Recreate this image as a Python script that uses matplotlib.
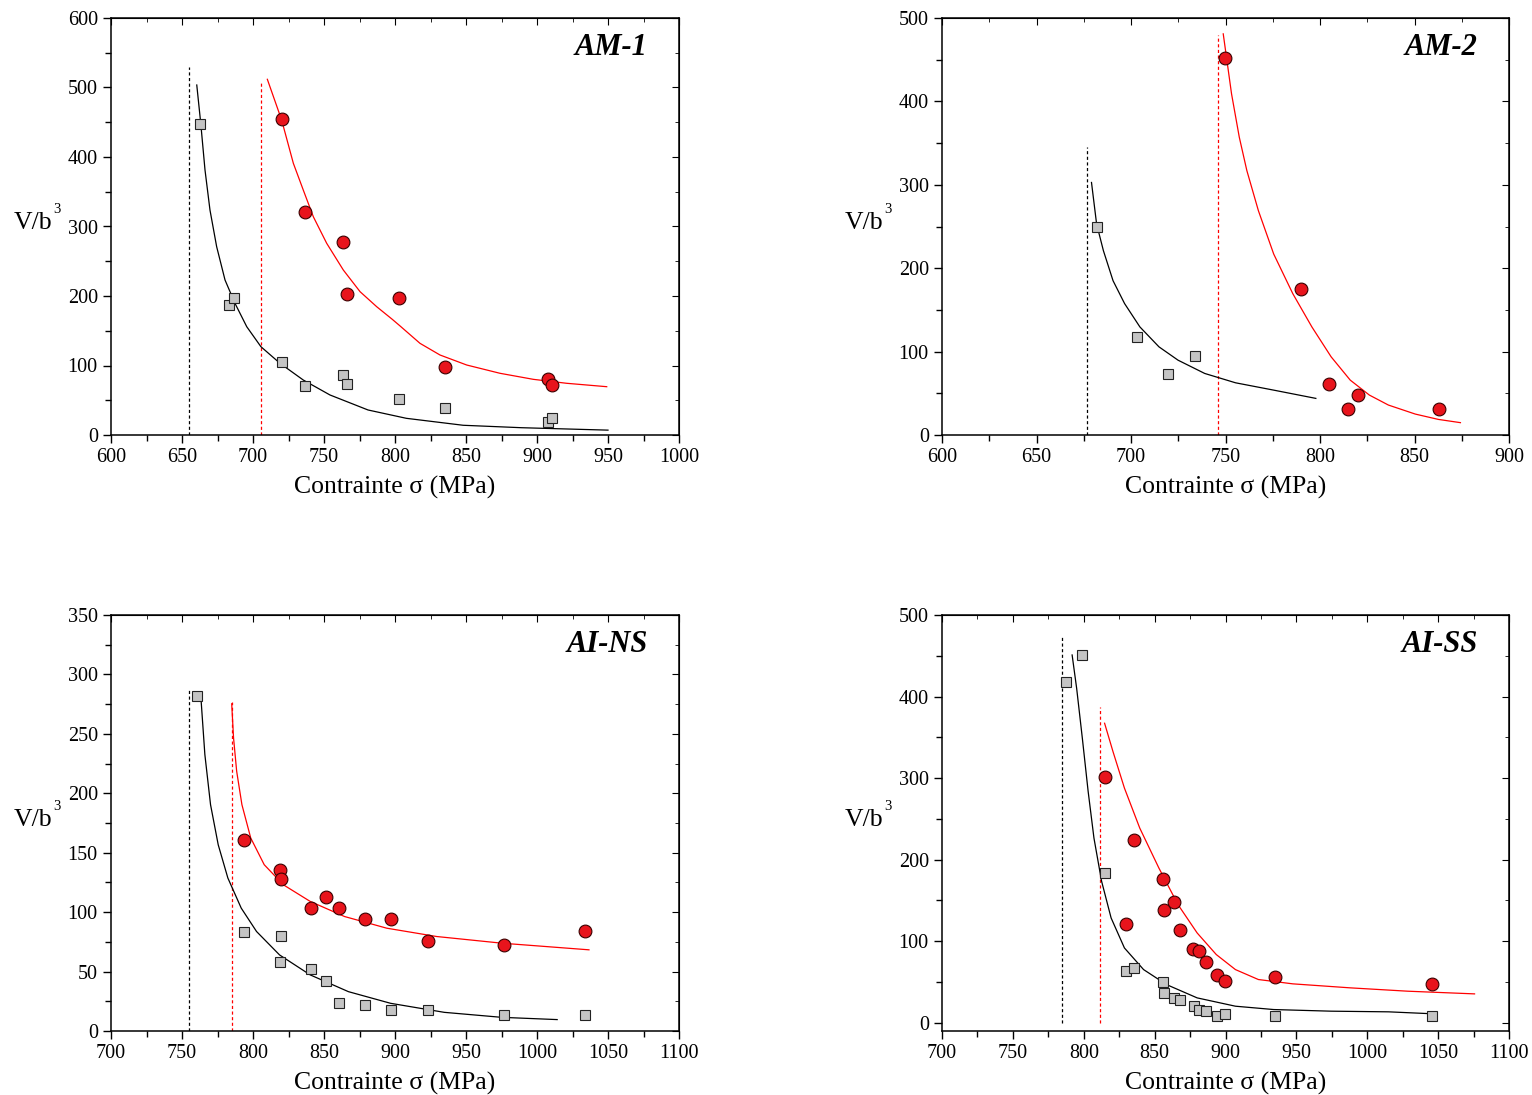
import matplotlib
matplotlib.use("Agg")
import matplotlib.pyplot as plt
from matplotlib.ticker import MultipleLocator, AutoMinorLocator

plt.rcParams['font.family'] = ['Liberation Serif', 'DejaVu Serif']

# ---- AM-1 ----
am1_sq_x = [662.6, 682.8, 686.6, 720.6, 736.5, 763.7, 765.9, 802.6, 835.5, 907.5, 910.5]
am1_sq_y = [447.8, 187, 197.8, 104.6, 71, 86.9, 73.4, 51.8, 38.4, 19.2, 24.5]
am1_ci_x = [720.6, 736.8, 763.7, 765.9, 802.6, 835.5, 907.5, 910.5]
am1_ci_y = [454.6, 321, 277, 202.6, 197.8, 98.4, 80.2, 71.5]
am1_bk_x = [660.4, 663.2, 666.2, 669.7, 674.4, 680.3, 687.3, 695.6, 705.6, 719, 735.4, 754.2, 781, 808, 848, 889, 950]
am1_bk_y = [503.6, 448.5, 381.3, 323.7, 271, 223, 189.5, 155.8, 127, 103.2, 79.1, 57.6, 36, 24, 14, 10.5, 7]
am1_rd_x = [710.1, 720.2, 728.4, 735.4, 742.5, 751.9, 763.6, 775.4, 787.1, 798.1, 803.5, 817.6, 831.7, 850.5, 873.9, 897.4, 920.9, 949.1]
am1_rd_y = [511.8, 453, 391, 352.5, 314, 275.8, 237.4, 206.2, 184.6, 166.4, 157, 131.9, 115.1, 100.7, 88.8, 80.1, 74.4, 69.5]
am1_vl = [(655.1, 529), (705.6, 509)]

# ---- AM-2 ----
am2_sq_x = [681.8, 703.2, 719.8, 733.8]
am2_sq_y = [250, 117.7, 72.6, 95.3]
am2_ci_x = [749.8, 789.7, 804.9, 820, 815, 862.8]
am2_ci_y = [451.5, 175, 60.6, 47.9, 30.7, 30.7]
am2_bk_x = [679.1, 681.8, 685.4, 690.5, 696.6, 704.7, 714.8, 724.9, 739, 755.3, 775.5, 797.8]
am2_bk_y = [302.8, 253, 221, 185, 157.6, 129.6, 105.7, 89.7, 73.8, 62.6, 53.8, 43.9]
am2_rd_x = [748.8, 753.2, 757.3, 761.3, 767.4, 775.5, 785.6, 795.7, 805.9, 816, 826.1, 836.2, 850.4, 862.6, 874.3]
am2_rd_y = [481, 409, 357, 317, 269, 217, 169.5, 129.6, 93.7, 65.8, 47.9, 35.9, 25.1, 18.7, 14.8]
am2_vl = [(676.5, 345), (746, 480)]

# ---- AI-NS ----
ains_sq_x = [760.7, 793.9, 820, 818.7, 840.5, 851.6, 860.8, 878.6, 897.4, 923.3, 976.5, 1033.6]
ains_sq_y = [281.7, 82.9, 80, 57.9, 52.2, 42.1, 23.6, 21.6, 17.7, 17.4, 13.5, 13.5]
ains_ci_x = [793.9, 818.7, 820, 840.5, 851.6, 860.8, 878.6, 897.4, 923.3, 976.5, 1033.6]
ains_ci_y = [160.4, 135.4, 128.1, 103.1, 112.6, 103.1, 94.1, 94.1, 76.1, 72.2, 84.3]
ains_bk_x = [763.4, 766.1, 770.1, 775.5, 782.3, 791.7, 802.5, 818.7, 840.3, 867.2, 896.9, 934.7, 975.1, 1014.2]
ains_bk_y = [279, 232.6, 190.4, 156.7, 128.7, 103.4, 83.7, 64, 47.2, 33.1, 23.3, 15.7, 11.5, 9.6]
ains_rd_x = [785, 786.3, 788.5, 792.2, 798.4, 807.9, 821.4, 840.3, 864.5, 894.2, 929.3, 975.1, 1036.6]
ains_rd_y = [275.3, 246.6, 218.5, 190.4, 162.4, 139.9, 123, 109, 96.3, 86.5, 79.5, 73.9, 68.3]
ains_vl = [(754.8, 286.5), (785, 276.7)]

# ---- AI-SS ----
aiss_sq_x = [787.7, 798.8, 814.7, 829.8, 835.8, 855.7, 856.8, 863.8, 867.9, 877.6, 881.6, 886, 893.8, 899.7, 934.8, 1046]
aiss_sq_y = [417.6, 451.4, 183.3, 63.3, 67.3, 49.8, 36.3, 30.2, 27.8, 21.2, 16.3, 14.3, 8.2, 11, 8.6, 7.8]
aiss_ci_x = [814.7, 835.8, 855.7, 856.8, 863.8, 829.8, 867.9, 877, 881.6, 886, 893.8, 899.7, 934.8, 1046]
aiss_ci_y = [302, 224, 176.3, 138, 148.2, 121.6, 114.3, 90.6, 87.8, 74.3, 58.4, 51.8, 56.7, 47.8]
aiss_bk_x = [791.8, 795, 799, 803.1, 807.2, 812.6, 819.3, 828.7, 842.2, 858.4, 880, 907, 934, 974.5, 1015, 1047.4]
aiss_bk_y = [451, 410, 349, 283.7, 226.5, 173.5, 128.6, 91.8, 65.3, 46.9, 30.6, 20.4, 16.3, 14.3, 13.5, 11]
aiss_rd_x = [814.7, 820.6, 828.7, 839.5, 853, 866.5, 880, 893.5, 907, 923.2, 947.5, 988, 1028.5, 1075.7]
aiss_rd_y = [367.3, 332.7, 287.8, 238.8, 189.8, 144.9, 110.2, 83.7, 65.3, 53.1, 47.8, 42.9, 38.8, 35.5]
aiss_vl = [(784.5, 475.5), (811.5, 387.8)]

panels = [
    ("AM-1", am1_sq_x, am1_sq_y, am1_ci_x, am1_ci_y, am1_bk_x, am1_bk_y, am1_rd_x, am1_rd_y, am1_vl,
     (600, 1000), (0, 600), 100),
    ("AM-2", am2_sq_x, am2_sq_y, am2_ci_x, am2_ci_y, am2_bk_x, am2_bk_y, am2_rd_x, am2_rd_y, am2_vl,
     (600, 900), (0, 500), 100),
    ("AI-NS", ains_sq_x, ains_sq_y, ains_ci_x, ains_ci_y, ains_bk_x, ains_bk_y, ains_rd_x, ains_rd_y, ains_vl,
     (700, 1100), (0, 350), 50),
    ("AI-SS", aiss_sq_x, aiss_sq_y, aiss_ci_x, aiss_ci_y, aiss_bk_x, aiss_bk_y, aiss_rd_x, aiss_rd_y, aiss_vl,
     (700, 1100), (-10, 500), 100),
]

fig = plt.figure(figsize=(15.32, 10.95), dpi=100)
W, H = 1532, 1095
# boîtes des axes en pixels : gauche, haut, droite, bas
boxes = [(111, 18, 679, 435), (942, 18, 1509, 435), (111, 615, 679, 1031), (942, 615, 1509, 1031)]

for (nom, sx, sy, cx, cy, bx, by, rx, ry, vl, xl, yl, ystep), (l, t, r, b) in zip(panels, boxes):
    ax = fig.add_axes([l / W, 1 - b / H, (r - l) / W, (b - t) / H])
    # lignes verticales pointillées
    ax.plot([vl[0][0], vl[0][0]], [0, vl[0][1]], color="black", lw=0.9, ls=(0, (2.5, 2)))
    ax.plot([vl[1][0], vl[1][0]], [0, vl[1][1]], color="red", lw=0.9, ls=(0, (2.5, 2)))
    # courbes
    ax.plot(bx, by, color="black", lw=0.9)
    ax.plot(rx, ry, color="red", lw=0.9)
    # points
    ax.plot(sx, sy, ls="none", marker="s", ms=7.8, mfc="#c4c4c4", mec="#222222", mew=0.8)
    ax.plot(cx, cy, ls="none", marker="o", ms=9.2, mfc="#e8141c", mec="#3a0000", mew=0.8)

    ax.set_xlim(*xl)
    ax.xaxis.set_major_locator(MultipleLocator(50))
    ax.set_yticks(list(range(0, yl[1] + 1, ystep)))
    ax.set_ylim(*yl)
    ax.xaxis.set_minor_locator(AutoMinorLocator(2))
    ax.yaxis.set_minor_locator(AutoMinorLocator(2))
    ax.tick_params(which="both", direction="out", top=False, right=False, labelsize=14.5, width=1)
    ax.tick_params(which="major", length=6)
    ax.tick_params(which="minor", length=4)
    for s in ax.spines.values():
        s.set_linewidth(1.1)

    # ticks vers l'intérieur en haut et à droite
    sec_x = ax.secondary_xaxis("top")
    sec_x.xaxis.set_major_locator(MultipleLocator(50))
    sec_x.xaxis.set_minor_locator(AutoMinorLocator(2))
    sec_x.tick_params(which="both", direction="in", labeltop=False)
    sec_x.tick_params(which="major", length=5)
    sec_x.tick_params(which="minor", length=3)
    sec_y = ax.secondary_yaxis("right")
    sec_y.yaxis.set_major_locator(MultipleLocator(ystep))
    sec_y.yaxis.set_minor_locator(AutoMinorLocator(2))
    sec_y.tick_params(which="both", direction="in", labelright=False)
    sec_y.tick_params(which="major", length=5)
    sec_y.tick_params(which="minor", length=3)

    ax.set_xlabel("Contrainte σ (MPa)", fontsize=18.5, labelpad=6)
    ax.text(-0.103, 0.508, "V/b", transform=ax.transAxes, fontsize=18.5,
            ha="right", va="center")
    ax.text(-0.101, 0.54, "3", transform=ax.transAxes, fontsize=10.5,
            ha="left", va="center")
    ax.text(0.945, 0.93, nom, transform=ax.transAxes, fontsize=22, fontweight="bold",
            fontstyle="italic", ha="right", va="center")

fig.savefig("out.png", dpi=100)
